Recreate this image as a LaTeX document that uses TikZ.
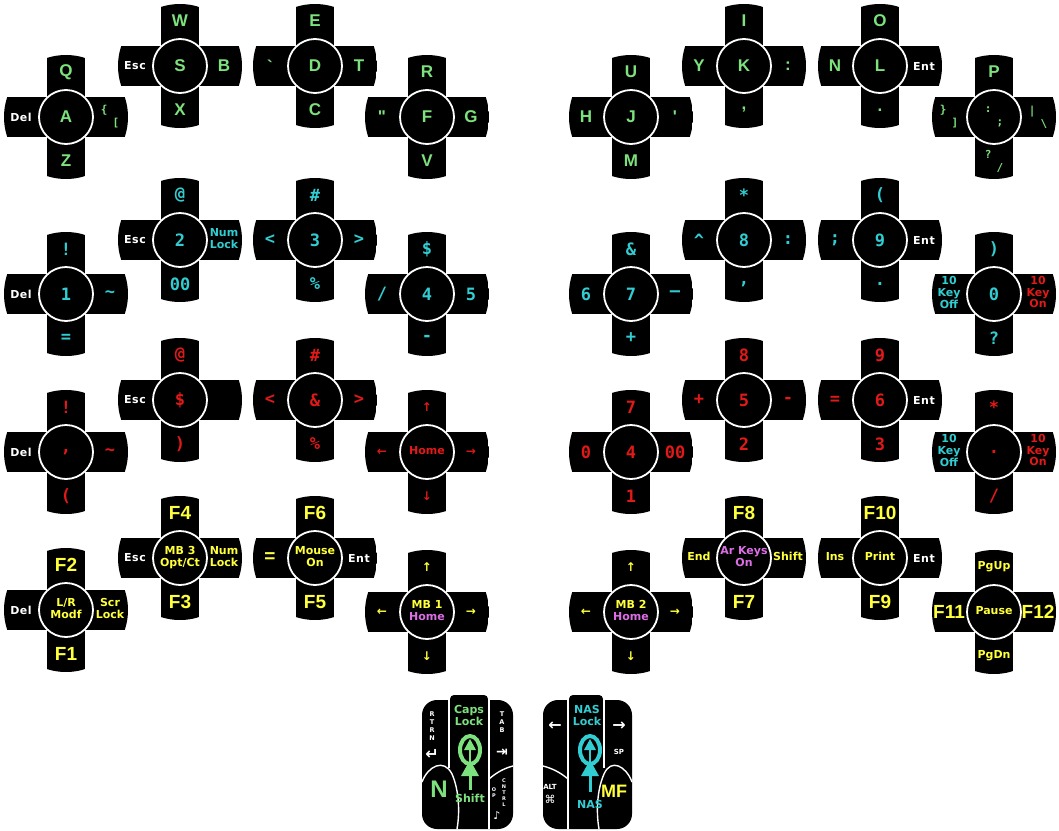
\documentclass[tikz,border=0pt]{standalone}
\usepackage{fontspec}
\setmainfont{Liberation Sans}
\newfontfamily\dvs{DejaVu Sans}
\newfontfamily\dvm{DejaVu Sans Mono}
\usepackage{xcolor}
\usepackage{tikz}
\usetikzlibrary{calc}
\definecolor{keyGreen}{RGB}{125, 225, 125}
\definecolor{keyCyan}{RGB}{50, 205, 210}
\definecolor{keyRed}{RGB}{225, 25, 25}
\definecolor{keyYellow}{RGB}{255, 255, 60}
\definecolor{keyPink}{RGB}{220, 110, 230}
\definecolor{padBlack}{RGB}{0, 0, 0}

\tikzset{
  hub/.style={circle, fill=padBlack, draw=white, line width=1.8pt,
    minimum size=54pt, inner sep=0pt},
  armlbl/.style={inner sep=0pt},
  sep/.style={draw=white, line width=1.4pt},
  tinytxt/.style={text=white, align=center, inner sep=0pt}
}

% small white word, small coloured stack, offset pair, arrow glyph
\newcommand{\wk}[1]{{\dvs\bfseries\fontsize{11}{11}\selectfont\addfontfeature{LetterSpace=5}\color{white}#1}}
\newcommand{\sk}[1]{{\dvs\bfseries\fontsize{11}{11.5}\selectfont\begin{tabular}{@{}c@{}}#1\end{tabular}}}
\newcommand{\pairkey}[2]{{\dvm\fontsize{11}{11}\selectfont\raisebox{6pt}{#1}\hspace{5pt}\raisebox{-7pt}{#2}}}
\newcommand{\arr}[1]{{\dvs\fontsize{12}{12}\selectfont #1}}

% #1 name, #2 centre, #3 hub, #4 up, #5 down, #6 left, #7 right
\newcommand{\keycross}[7]{%
  \begin{scope}[shift={(#2)}]
    \begin{scope}
      \clip (0,0) circle (62);
      \fill[padBlack] (-19,-62) rectangle (19,62);
      \fill[padBlack] (-62,-20) rectangle (62,20);
    \end{scope}
    \node[hub] (#1) at (0,0) {#3};
    \node[armlbl] (#1-up) at (0,-45) {#4};
    \node[armlbl] (#1-dn) at (0,44) {#5};
    \node[armlbl] (#1-lt) at (-45,0) {#6};
    \node[armlbl] (#1-rt) at (44,0) {#7};
  \end{scope}}

\begin{document}
\begin{tikzpicture}[x=1pt, y=-1pt]
  \useasboundingbox (0,0) rectangle (1059,830);

  % letters
  \begin{scope}[text=keyGreen, font=\bfseries\fontsize{17}{17}\selectfont]
    \keycross{a}{66,117}{A}{Q}{Z}{\wk{Del}}{\pairkey{\{}{[}}
    \keycross{s}{180,66}{S}{W}{X}{\wk{Esc}}{B}
    \keycross{d}{315,66}{D}{E}{C}{\textasciigrave}{T}
    \keycross{f}{427,117}{F}{R}{V}{\textquotedbl}{G}
    \keycross{j}{631,117}{J}{U}{M}{H}{\textquotesingle}
    \keycross{k}{744,66}{K}{I}{,}{Y}{:}
    \keycross{l}{880,66}{L}{O}{.}{N}{\wk{Ent}}
    \keycross{p}{994,117}{\pairkey{:}{;}}{P}{\pairkey{?}{/}}{\pairkey{\}}{]}}{\pairkey{|}{\textbackslash}}
  \end{scope}

  % numbers
  \begin{scope}[text=keyCyan, font=\dvm\bfseries\fontsize{17}{17}\selectfont]
    \keycross{n1}{66,294}{1}{!}{=}{\wk{Del}}{\textasciitilde}
    \keycross{n2}{180,240}{2}{@}{00}{\wk{Esc}}{\sk{Num\\Lock}}
    \keycross{n3}{315,240}{3}{\#}{\%}{<}{>}
    \keycross{n4}{427,294}{4}{\$}{-}{/}{5}
    \keycross{n7}{631,294}{7}{\&}{+}{6}{—}
    \keycross{n8}{744,240}{8}{*}{,}{\textasciicircum}{:}
    \keycross{n9}{880,240}{9}{(}{.}{;}{\wk{Ent}}
    \keycross{n0}{994,294}{0}{)}{?}{\sk{10\\Key\\Off}}{{\color{keyRed}\sk{10\\Key\\On}}}
  \end{scope}

  % ten key
  \begin{scope}[text=keyRed, font=\dvm\bfseries\fontsize{17}{17}\selectfont]
    \keycross{rComma}{66,452}{,}{!}{(}{\wk{Del}}{\textasciitilde}
    \keycross{rDollar}{180,400}{\$}{@}{)}{\wk{Esc}}{}
    \keycross{rAmp}{315,400}{\&}{\#}{\%}{<}{>}
    \keycross{rHome}{427,452}{\sk{Home}}{\arr{↑}}{\arr{↓}}{\arr{←}}{\arr{→}}
    \keycross{r4}{631,452}{4}{7}{1}{0}{00}
    \keycross{r5}{744,400}{5}{8}{2}{+}{-}
    \keycross{r6}{880,400}{6}{9}{3}{=}{\wk{Ent}}
    \keycross{rDot}{994,452}{.}{*}{/}{{\color{keyCyan}\sk{10\\Key\\Off}}}{\sk{10\\Key\\On}}
  \end{scope}

  % function keys
  \begin{scope}[text=keyYellow, font=\bfseries\fontsize{19}{19}\selectfont]
    \keycross{fLR}{66,610}{\sk{L/R\\Modf}}{F2}{F1}{\wk{Del}}{\sk{Scr\\Lock}}
    \keycross{fMBthree}{180,558}{\sk{MB 3\\Opt/Ct}}{F4}{F3}{\wk{Esc}}{\sk{Num\\Lock}}
    \keycross{fMouse}{315,558}{\sk{Mouse\\On}}{F6}{F5}{=}{\wk{Ent}}
    \keycross{fMBone}{427,612}{\sk{MB 1\\\color{keyPink}Home}}{\arr{↑}}{\arr{↓}}{\arr{←}}{\arr{→}}
    \keycross{fMBtwo}{631,612}{\sk{MB 2\\\color{keyPink}Home}}{\arr{↑}}{\arr{↓}}{\arr{←}}{\arr{→}}
    \keycross{fArKeys}{744,558}{{\color{keyPink}\sk{Ar Keys\\On}}}{F8}{F7}{\sk{End}}{\sk{Shift}}
    \keycross{fPrint}{880,558}{\sk{Print}}{F10}{F9}{\sk{Ins}}{\wk{Ent}}
    \keycross{fPause}{994,612}{\sk{Pause}}{\sk{PgUp}}{\sk{PgDn}}{F11}{F12}
  \end{scope}

  % left thumb
  \fill[padBlack, rounded corners=15pt] (422,700) rectangle (513,829);
  \fill[padBlack, rounded corners=4pt] (450,695) rectangle (488,720);
  \draw[sep] (449,699) -- (449,768);
  \draw[sep] (489,699) -- (489,829);
  \draw[sep] (489,779) .. controls (497,772) and (505,768) .. (513,766);
  \draw[sep] (422,782) .. controls (428,766) and (444,758) .. (452,774)
    .. controls (459,790) and (460,812) .. (457,829);
  \draw[keyGreen, line width=4pt] (470,750) ellipse (10 and 14);
  \fill[keyGreen] (470,739) -- (476,750) -- (464,750) -- cycle;
  \draw[keyGreen, line width=2.5pt] (470,750) -- (470,764);
  \fill[keyGreen] (470,760) -- (479,776) -- (461,776) -- cycle;
  \draw[keyGreen, line width=3pt] (470,776) -- (470,790);
  \node[text=keyGreen, inner sep=0pt] (capsLock) at (469,717) {\sk{Caps\\Lock}};
  \node[text=keyGreen, inner sep=0pt] (shiftKey) at (470,800) {\sk{Shift}};
  \node[text=keyGreen, font=\bfseries\fontsize{24}{24}\selectfont] (nKey) at (439,789) {N};
  \node[tinytxt, font=\dvs\bfseries\fontsize{6.5}{8}\selectfont] (rtrnKey) at (432,726) {R\\T\\R\\N};
  \node[tinytxt, font=\dvs\bfseries\fontsize{16}{16}\selectfont] (rtrnArrow) at (432,754) {↵};
  \node[tinytxt, font=\dvs\bfseries\fontsize{6.5}{8}\selectfont] (tabKey) at (502,722) {T\\A\\B};
  \node[tinytxt, font=\dvs\bfseries\fontsize{14}{14}\selectfont] (tabArrow) at (502,753) {⇥};
  \node[tinytxt, font=\dvs\bfseries\fontsize{5}{6}\selectfont] (opKey) at (494,793) {O\\P};
  \node[tinytxt, font=\dvs\bfseries\fontsize{5}{6}\selectfont] (cntrlKey) at (504,793) {C\\N\\T\\R\\L};
  \node[tinytxt, font=\dvs\fontsize{11}{11}\selectfont] (noteKey) at (497,816) {♪};

  % right thumb
  \fill[padBlack, rounded corners=15pt] (543,700) rectangle (632,829);
  \fill[padBlack, rounded corners=4pt] (569,695) rectangle (603,720);
  \draw[sep] (568,699) -- (568,829);
  \draw[sep] (604,699) -- (604,768);
  \draw[sep] (568,779) .. controls (560,772) and (551,768) .. (543,766);
  \draw[sep] (632,782) .. controls (626,766) and (611,758) .. (604,774)
    .. controls (597,790) and (596,812) .. (599,829);
  \draw[keyCyan, line width=4pt] (590,750) ellipse (10 and 14);
  \fill[keyCyan] (590,739) -- (596,750) -- (584,750) -- cycle;
  \draw[keyCyan, line width=2.5pt] (590,750) -- (590,764);
  \fill[keyCyan] (590,760) -- (599,776) -- (581,776) -- cycle;
  \draw[keyCyan, line width=3pt] (590,776) -- (590,792);
  \node[text=keyCyan, inner sep=0pt] (nasLock) at (587,717) {\sk{NAS\\Lock}};
  \node[text=keyCyan, inner sep=0pt] (nasKey) at (590,806) {\sk{NAS}};
  \node[tinytxt, font=\dvs\bfseries\fontsize{16}{16}\selectfont] (leftArrow) at (555,726) {←};
  \node[tinytxt, font=\dvs\bfseries\fontsize{16}{16}\selectfont] (rightArrow) at (619,726) {→};
  \node[tinytxt, font=\dvs\bfseries\fontsize{7}{7}\selectfont] (spKey) at (619,752) {SP};
  \node[tinytxt, font=\dvs\bfseries\fontsize{7}{7}\selectfont] (altKey) at (550,787) {ALT};
  \node[tinytxt, font=\dvs\fontsize{11}{11}\selectfont] (cmdKey) at (550,799) {⌘};
  \node[text=keyYellow, font=\bfseries\fontsize{18}{18}\selectfont] (mfKey) at (614,791) {MF};
\end{tikzpicture}
\end{document}
